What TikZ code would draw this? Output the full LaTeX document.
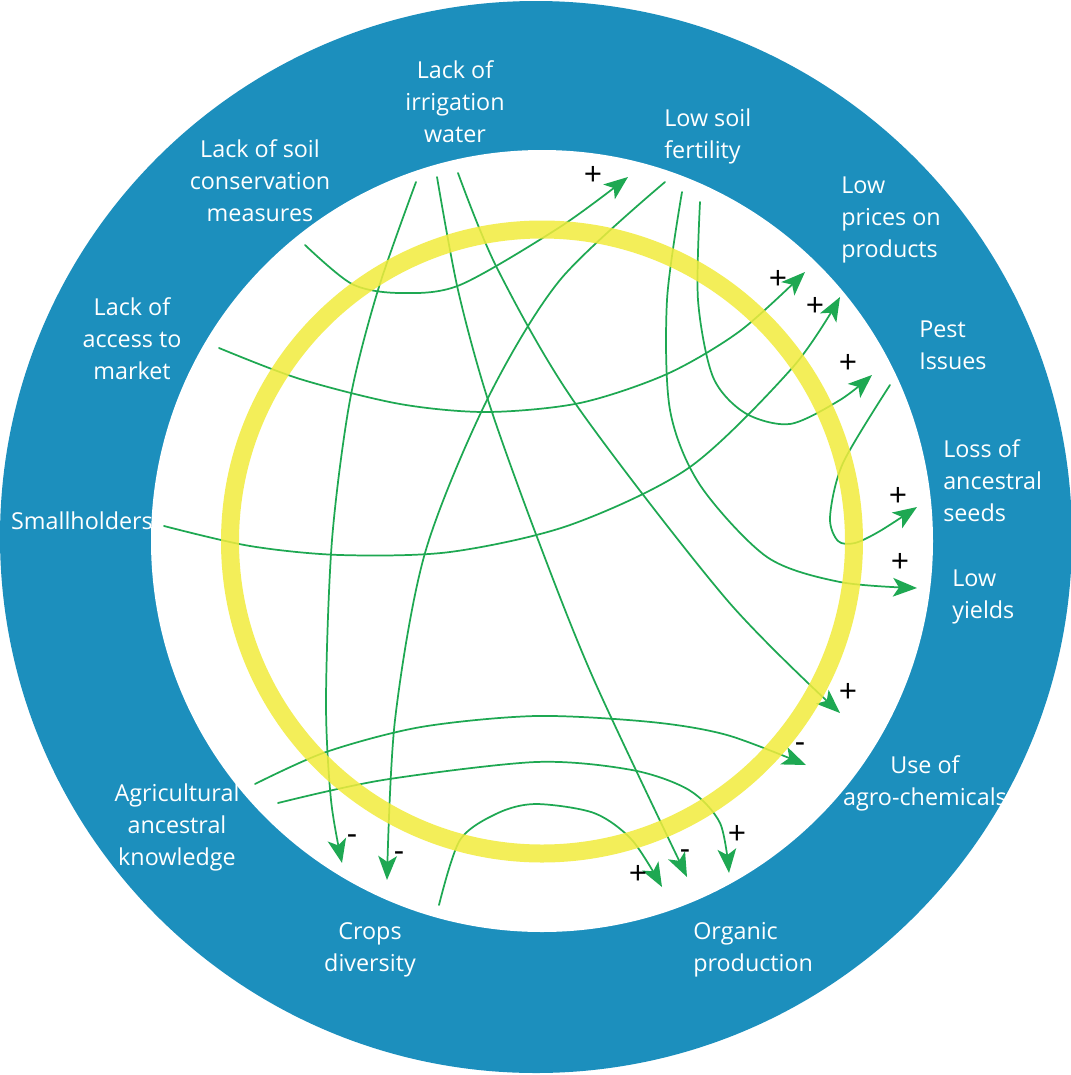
\documentclass[tikz,border=0pt]{standalone}
\usepackage{fontspec}
\setmainfont{Open Sans}
\usetikzlibrary{arrows.meta}
\definecolor{ringblue}{RGB}{28,143,189}
\definecolor{loopyellow}{RGB}{242,236,60}
\definecolor{linkgreen}{RGB}{30,168,82}
\begin{document}
\begin{tikzpicture}[x=0.75pt, y=-0.75pt, line join=round, line cap=round,
	>={Stealth[length=18pt,width=14pt,inset=4.5pt]},
	lbl/.style={text=white, font=\fontsize{17.5}{24}\selectfont, inner sep=0pt, align=center},
	lbll/.style={lbl, align=left, anchor=west},
	sign/.style={font=\fontsize{24}{24}\selectfont, inner sep=0pt},
	link/.style={linkgreen, line width=1.3pt, ->}]
	\useasboundingbox (0,0) rectangle (1071,1075);
	\fill[ringblue] (536,537) circle (536);
	\fill[white] (542,541) circle (391);
	% ends of the links
	\coordinate (cons-out) at (305,245);
	\coordinate (irr-out1) at (416,182);
	\coordinate (irr-out2) at (437,177);
	\coordinate (irr-out3) at (458,173);
	\coordinate (fert-out1) at (665,182);
	\coordinate (fert-out2) at (682,192);
	\coordinate (fert-out3) at (700,202);
	\coordinate (market-out) at (219,348);
	\coordinate (small-out) at (164,526);
	\coordinate (pest-out) at (890,385);
	\coordinate (know-out1) at (255,784);
	\coordinate (know-out2) at (278,803);
	\coordinate (crops-out) at (439,905);
	\coordinate (fert-in) at (628,177);
	\coordinate (price-in1) at (805,272);
	\coordinate (price-in2) at (840,297);
	\coordinate (pest-in) at (872,375);
	\coordinate (seeds-in) at (917,507);
	\coordinate (yields-in) at (917,588);
	\coordinate (chem-in1) at (840,713);
	\coordinate (chem-in2) at (806,765);
	\coordinate (organic-in1) at (729,873);
	\coordinate (organic-in2) at (687,877);
	\coordinate (organic-in3) at (662,887);
	\coordinate (crops-in1) at (342,863);
	\coordinate (crops-in2) at (387,880);
	% links
	\draw[link] plot[smooth] coordinates {(cons-out) (352,284) (400,293) (460,285) (560,227) (fert-in)};
	\draw[link] plot[smooth] coordinates {(irr-out1) (378,290) (350,400) (332,540) (326,700) (331,800) (crops-in1)};
	\draw[link] plot[smooth] coordinates {(irr-out2) (458,290) (488,400) (537,537) (594,680) (organic-in2)};
	\draw[link] plot[smooth] coordinates {(irr-out3) (497,268) (575,403) (727,600) (chem-in1)};
	\draw[link] plot[smooth] coordinates {(fert-out1) (560,280) (487,400) (425,553) (395,720) (crops-in2)};
	\draw[link] plot[smooth] coordinates {(fert-out2) (667,300) (670,410) (700,485) (767,557) (840,582) (yields-in)};
	\draw[link] plot[smooth] coordinates {(fert-out3) (698,300) (713,377) (745,413) (790,424) (840,400) (pest-in)};
	\draw[link] plot[smooth] coordinates {(market-out) (300,379) (400,404) (487,412) (580,403) (667,374) (740,331) (price-in1)};
	\draw[link] plot[smooth] coordinates {(small-out) (250,546) (340,555) (450,552) (570,525) (690,467) (793,367) (price-in2)};
	\draw[link] plot[smooth] coordinates {(pest-out) (843,463) (830,517) (838,541) (855,543) (880,531) (seeds-in)};
	\draw[link] plot[smooth] coordinates {(know-out1) (326,752) (421,727) (536,716) (651,722) (727,735) (chem-in2)};
	\draw[link] plot[smooth] coordinates {(know-out2) (383,780) (536,762) (632,770) (689,790) (720,823) (organic-in1)};
	\draw[link] plot[smooth] coordinates {(crops-out) (460,840) (498,813) (536,804) (594,813) (632,840) (organic-in3)};
	\draw[loopyellow, line width=13.5pt, opacity=.85] (542,541.5) circle (312);
	% labels
	\node[lbl] (irrigation) at (455,102) {Lack of\\irrigation\\water};
	\node[lbl] (conservation) at (260,181) {Lack of soil\\conservation\\measures};
	\node[lbll] (fertility) at (664,136) {Low soil\\fertility};
	\node[lbll] (prices) at (841,220) {Low\\prices on\\products};
	\node[lbll] (pest) at (919,345) {Pest\\Issues};
	\node[lbll] (seeds) at (943,481) {Loss of\\ancestral\\seeds};
	\node[lbll] (yields) at (952,597) {Low\\yields};
	\node[lbl] (chemicals) at (925,783) {Use of\\agro-chemicals};
	\node[lbll] (organic) at (693,950) {Organic\\production};
	\node[lbl] (crops) at (370,950) {Crops\\diversity};
	\node[lbl] (knowledge) at (177,827) {Agricultural\\ancestral\\knowledge};
	\node[lbl] (smallholders) at (82,521) {Smallholders};
	\node[lbl] (market) at (132,339) {Lack of\\access to\\market};
	\foreach \x/\y/\s [count=\i] in {593/176/+, 778/280/+, 815/307/+, 848/364/+, 898/497/+, 900/563/+, 848/693/+, 800/748/-, 737/835/+, 685/855/-, 638/875/+, 352/840/-, 399/857/-}
	\node[sign] (sign\i) at (\x,\y) {\s};
\end{tikzpicture}
\end{document}
